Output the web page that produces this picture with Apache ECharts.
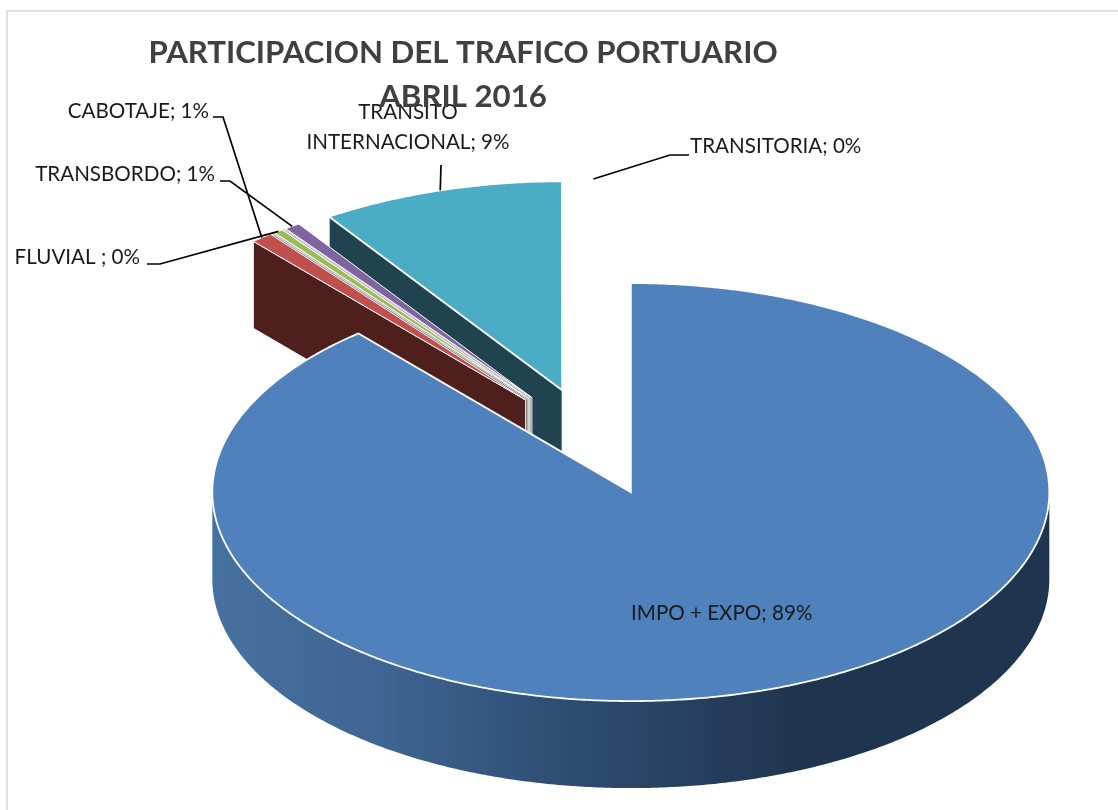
<!DOCTYPE html>
<html>
<head>
<meta charset="utf-8">
<style>
  html, body { margin: 0; padding: 0; background: #fff; }
  #main { width: 1118px; height: 810px; }
</style>
<script src="https://cdn.jsdelivr.net/npm/echarts@6/dist/echarts.min.js"></script>
</head>
<body>
<div id="main"></div>
<script>
// clockwise from 12 o'clock. the two blank names are the hairline slices with no label in the picture
var categories = ['IMPO + EXPO', 'CABOTAJE', '', 'FLUVIAL ', '', 'TRANSBORDO', 'TRANSITO\nINTERNACIONAL', 'TRANSITORIA'];
var sliceValues = [88.72, 0.85, 0.03, 0.36, 0.03, 0.61, 9.39, 0.01];
var percentLabels = ['89%', '1%', '', '0%', '', '1%', '9%', '0%'];
var topColors = ['#4f81bd', '#c0504d', '#8c8c8c', '#9bbb59', '#8c8c8c', '#8064a2', '#4bacc6', '#f79646'];
var wallColors = ['#1f344e', '#4f1f1e', '#6b6b6b', '#4e5e2c', '#6b6b6b', '#403251', '#1f444f', '#7d4b23'];

// pie geometry in px
var CX = 593.5, CY = 441.7, RX = 418.5, RY = 209, DEPTH = 87, EXPLODE = 0.257;
var FONT = 'Lato, "Noto Sans", sans-serif';

// where each label sits and the elbow of its leader line
var labelLayout = {
  'IMPO + EXPO': { x: 631, y: 613, align: 'left' },
  'CABOTAJE': { x: 209, y: 111, align: 'right', elbow: [[213, 117], [223, 117]] },
  'FLUVIAL ': { x: 140, y: 257, align: 'right', elbow: [[147, 264], [160, 264]] },
  'TRANSBORDO': { x: 215, y: 174, align: 'right', elbow: [[220, 181], [230, 181]] },
  'TRANSITO\nINTERNACIONAL': { x: 408, y: 127, align: 'center', elbow: [[441, 165]] },
  'TRANSITORIA': { x: 690, y: 146, align: 'left', elbow: [[689, 155], [670, 155]] }
};

var total = sliceValues.reduce(function (a, b) { return a + b; }, 0);
var slices = [];
var acc = 0;
sliceValues.forEach(function (v) {
  var a0 = acc / total * 360;
  acc += v;
  var a1 = acc / total * 360;
  var m = (a0 + a1) / 2 * Math.PI / 180;
  slices.push({
    a0: a0,
    a1: a1,
    mid: (a0 + a1) / 2,
    ax: CX + EXPLODE * RX * Math.sin(m),
    ay: CY - EXPLODE * RY * Math.cos(m)
  });
});

function rimPoint(s, deg, down) {
  var r = deg * Math.PI / 180;
  return [s.ax + RX * Math.sin(r), s.ay - RY * Math.cos(r) + (down || 0)];
}

function arcPoints(s, from, to, down) {
  var pts = [];
  var n = Math.max(1, Math.ceil((to - from) / 0.5));
  for (var i = 0; i <= n; i++) {
    pts.push(rimPoint(s, from + (to - from) * i / n, down));
  }
  return pts;
}

function radialWall(s, deg) {
  return [[s.ax, s.ay], rimPoint(s, deg), rimPoint(s, deg, DEPTH), [s.ax, s.ay + DEPTH]];
}

function renderSlice(params) {
  var i = params.dataIndex;
  var s = slices[i];
  var base = (categories.length - i) * 10; // back slices first, IMPO + EXPO last
  var children = [];

  // walls facing the viewer
  if (s.a0 > 180 && s.a0 < 360) {
    children.push({
      type: 'polygon', z2: base,
      shape: { points: radialWall(s, s.a0) },
      style: { fill: wallColors[i], stroke: '#fff', lineWidth: 1 }
    });
  }
  var from = Math.max(s.a0, 90), to = Math.min(s.a1, 270);
  if (to > from) {
    children.push({
      type: 'polygon', z2: base + 1,
      shape: { points: arcPoints(s, from, to).concat(arcPoints(s, from, to, DEPTH).reverse()) },
      style: {
        fill: {
          type: 'linear', x: 1, y: 0, x2: 0, y2: 0,
          colorStops: [
            { offset: 0, color: wallColors[i] },
            { offset: 0.3, color: wallColors[i] },
            { offset: 0.6, color: '#2f4f75' },
            { offset: 0.8, color: '#3f6594' },
            { offset: 1, color: '#46719f' }
          ]
        }
      }
    });
  }

  // top face. the unlabelled hairlines are a grey line inside a white band, above their neighbours
  if (categories[i] === '') {
    children.push({
      type: 'polygon', z2: 75,
      shape: { points: [[s.ax, s.ay]].concat(arcPoints(s, s.a0, s.a1)) },
      style: { fill: '#fff', stroke: '#fff', lineWidth: 1.8 }
    });
    children.push({
      type: 'polyline', z2: 76,
      shape: { points: [[s.ax, s.ay], rimPoint(s, s.mid)] },
      style: { fill: null, stroke: topColors[i], lineWidth: 0.8 }
    });
  } else {
    var thin = sliceValues[i] < 1;
    children.push({
      type: 'polygon', z2: base + 2,
      shape: { points: [[s.ax, s.ay]].concat(arcPoints(s, s.a0, s.a1)) },
      style: { fill: topColors[i], stroke: '#fff', lineWidth: thin ? 1 : 1.8, lineJoin: 'miter' }
    });
  }

  // label and leader
  var lay = labelLayout[categories[i]];
  if (lay) {
    children.push({
      type: 'text', z2: 1001,
      style: {
        x: lay.x, y: lay.y,
        text: categories[i] + '; ' + percentLabels[i],
        fill: '#1a1a1a',
        font: '20.6px ' + FONT,
        lineHeight: 30,
        align: lay.align,
        verticalAlign: 'middle'
      }
    });
    if (lay.elbow) {
      children.push({
        type: 'polyline', z2: 1000,
        shape: { points: lay.elbow.concat([rimPoint(s, s.mid)]) },
        style: { fill: null, stroke: '#000', lineWidth: 1.7 }
      });
    }
  }
  return { type: 'group', children: children };
}

var chart = echarts.init(document.getElementById('main'));
chart.setOption({
  animation: false,
  backgroundColor: '#fff',
  title: {
    text: 'PARTICIPACION DEL TRAFICO PORTUARIO\nABRIL 2016',
    left: 458,
    top: 26,
    textAlign: 'center',
    textStyle: {
      fontFamily: FONT,
      fontWeight: 'bold',
      fontSize: 31.2,
      lineHeight: 44,
      color: '#404040'
    }
  },
  graphic: [{
    type: 'rect',
    silent: true,
    shape: { x: 7, y: 11, width: 1300, height: 1000 },
    style: { fill: null, stroke: '#e0e0e0', lineWidth: 2 }
  }],
  series: [{
    type: 'custom',
    coordinateSystem: 'none',
    silent: true,
    renderItem: renderSlice,
    data: sliceValues.map(function (v, i) { return { name: categories[i], value: v }; })
  }]
});
</script>
</body>
</html>
